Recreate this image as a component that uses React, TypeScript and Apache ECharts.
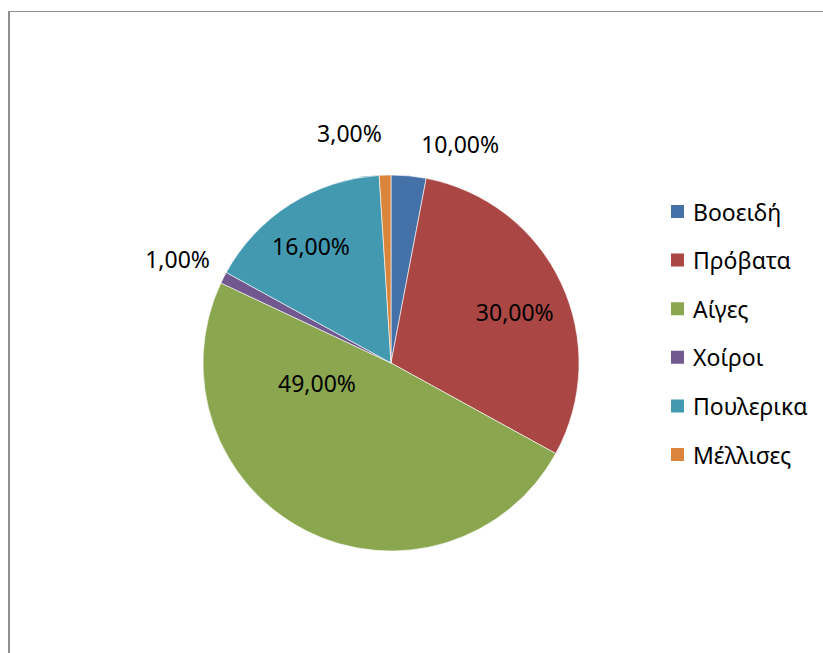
import React, { useEffect, useRef } from "react";
import * as echarts from "echarts";

const categories = ["Βοοειδή", "Πρόβατα", "Αίγες", "Χοίροι", "Πουλερικα", "Μέλλισες"];
const sliceValues = [3, 30, 49, 1, 16, 1];
const labelTexts = ["10,00%", "30,00%", "49,00%", "1,00%", "16,00%", "3,00%"];
const colors = ["#4471A7", "#AA4644", "#8AA64F", "#71588F", "#4299B0", "#DA843C"];

// label placement offsets (layout only), relative to the inside anchor
const labelOffsets: [number, number][] = [
  [60, -122],
  [36, -10],
  [-30, -66],
  [-127, -60],
  [-28, -35],
  [-38.5, -133],
];

const FONT = "'Noto Sans', 'DejaVu Sans', sans-serif";

export default function App() {
  const ref = useRef<HTMLDivElement>(null);
  useEffect(() => {
    if (!ref.current) return;
    const chart = echarts.init(ref.current, undefined, { renderer: "svg" });
    const data = categories.map((name, i) => ({
      name,
      value: sliceValues[i],
      itemStyle: { color: colors[i] },
      label: { formatter: labelTexts[i], offset: labelOffsets[i] },
    }));
    chart.setOption({
      animation: false,
      backgroundColor: "#ffffff",
      textStyle: { fontFamily: FONT },
      legend: {
        orient: "vertical",
        left: 669,
        top: 200,
        padding: 0,
        itemWidth: 15,
        itemHeight: 15,
        itemGap: 25.6,
        icon: "rect",
        data: categories,
        textStyle: {
          fontFamily: FONT,
          fontSize: 23,
          lineHeight: 23,
          color: "#000",
          padding: [0, 0, 0, 3],
        },
      },
      graphic: [
        {
          type: "line",
          shape: { x1: 9, y1: 11, x2: 9, y2: 700 },
          style: { stroke: "#8e8e8e", lineWidth: 2 },
          silent: true,
        },
        {
          type: "line",
          shape: { x1: 8, y1: 11.5, x2: 900, y2: 11.5 },
          style: { stroke: "#8e8e8e", lineWidth: 1.2 },
          silent: true,
        },
      ],
      series: [
        {
          type: "pie",
          center: [391, 363],
          radius: [0, 188],
          startAngle: 90,
          clockwise: true,
          avoidLabelOverlap: false,
          itemStyle: { borderColor: "#ffffff", borderWidth: 0.6 },
          label: {
            show: true,
            position: "inside",
            fontFamily: FONT,
            fontSize: 23,
            color: "#000",
          },
          labelLine: { show: false },
          emphasis: { disabled: true },
          data,
        },
      ],
    });
    return () => chart.dispose();
  }, []);
  return (
    <div
      ref={ref}
      style={{ position: "fixed", left: 0, top: 0, width: 823, height: 653 }}
    />
  );
}
